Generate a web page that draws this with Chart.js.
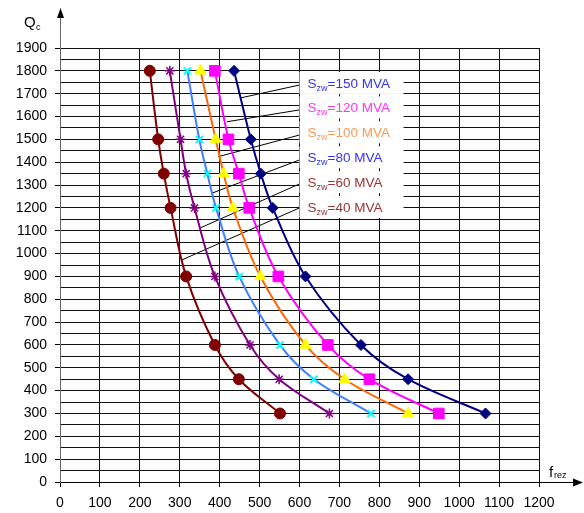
<!DOCTYPE html>
<html>
<head>
<meta charset="utf-8">
<script src="https://cdn.jsdelivr.net/npm/chart.js@4.4.1/dist/chart.umd.min.js"></script>
<style>
  html, body { margin: 0; padding: 0; background: #fff; }
  #wrap { width: 584px; height: 513px; }
</style>
</head>
<body>
<div id="wrap"><canvas id="chart" width="584" height="513"></canvas></div>
<script>
// Q_c values shared by every curve
const qc = [1800, 1500, 1350, 1200, 900, 600, 450, 300];

// f_rez readings, one array per S_zw
const f40 = [225, 246, 260, 277, 316, 388, 448, 551];
const f60 = [275, 302, 316, 337, 388, 476, 549, 675];
const f80 = [319, 349, 369, 391, 449, 551, 636, 779];
const f100 = [352, 390, 410, 433, 502, 615, 713, 872];
const f120 = [388, 422, 448, 474, 547, 671, 775, 949];
const f150 = [436, 478, 503, 533, 615, 754, 872, 1066];

const szw = ['150', '120', '100', '80', '60', '40'];
const xTicks = [0, 100, 200, 300, 400, 500, 600, 700, 800, 900, 1000, 1100, 1200];

const FONT = 'Liberation Sans, Arial, sans-serif';

const series = [
  { xs: f40, line: '#800000', fill: '#800000', style: 'circle', r: 5.5, bw: 1 },
  { xs: f60, line: '#800080', fill: '#800080', style: 'star', r: 5, bw: 1.5 },
  { xs: f80, line: '#3f7fff', fill: '#00ffff', style: 'crossRot', r: 5, bw: 2 },
  { xs: f100, line: '#ff6600', fill: '#ffff00', style: 'triangle', r: 6.5, bw: 1 },
  { xs: f120, line: '#ff00ff', fill: '#ff00ff', style: 'rect', r: 7.5, bw: 1 },
  { xs: f150, line: '#000080', fill: '#000080', style: 'rectRot', r: 5.5, bw: 1 },
];

// label boxes and their leader lines (order follows szw)
const labelColors = ['#3333ee', '#ff33ff', '#ff9955', '#3333ee', '#993333', '#993333'];
const labelY = [1747, 1640, 1531, 1422, 1313, 1204];
const leadStart = [1738, 1629, 1519, 1410, 1305, 1200];
const leadEnd = [[451, 1681], [418, 1577], [396, 1424], [380, 1264], [351, 1112], [305, 972]];

const datasets = series.map(s => ({
  data: s.xs.map((x, i) => ({ x: x, y: qc[i] })),
  showLine: true,
  borderColor: s.line,
  borderWidth: 2,
  tension: 0.35,
  pointStyle: s.style,
  pointRadius: s.r,
  pointBackgroundColor: s.fill,
  pointBorderColor: s.fill,
  pointBorderWidth: s.bw,
}));

const decor = {
  id: 'decor',
  beforeDatasetsDraw(chart) {
    const { ctx, scales: { x, y } } = chart;
    ctx.save();
    // leader lines
    ctx.strokeStyle = '#000';
    ctx.lineWidth = 1;
    szw.forEach((s, i) => {
      ctx.beginPath();
      ctx.moveTo(x.getPixelForValue(600), y.getPixelForValue(leadStart[i]));
      ctx.lineTo(x.getPixelForValue(leadEnd[i][0]), y.getPixelForValue(leadEnd[i][1]));
      ctx.stroke();
    });
    // label boxes
    szw.forEach((s, i) => {
      const left = x.getPixelForValue(600);
      const cy = y.getPixelForValue(labelY[i]);
      ctx.fillStyle = '#fff';
      ctx.fillRect(left, cy - 11, 104, 22);
      ctx.fillStyle = labelColors[i];
      ctx.textBaseline = 'alphabetic';
      ctx.textAlign = 'left';
      let tx = left + 8;
      const base = cy + 5;
      ctx.font = '13.5px ' + FONT;
      ctx.fillText('S', tx, base);
      tx += ctx.measureText('S').width;
      ctx.font = '9px ' + FONT;
      ctx.fillText('zw', tx, base + 3);
      tx += ctx.measureText('zw').width;
      ctx.font = '13.5px ' + FONT;
      ctx.fillText('=' + s + ' MVA', tx, base);
    });
    ctx.restore();
  },
  afterDraw(chart) {
    const { ctx, chartArea: a } = chart;
    ctx.save();
    ctx.strokeStyle = '#666';
    ctx.fillStyle = '#000';
    ctx.lineWidth = 1;
    // y axis arrow
    ctx.beginPath();
    ctx.moveTo(a.left + 0.5, a.top);
    ctx.lineTo(a.left + 0.5, 16);
    ctx.stroke();
    ctx.beginPath();
    ctx.moveTo(a.left - 3, 18);
    ctx.lineTo(a.left + 0.5, 8);
    ctx.lineTo(a.left + 4, 18);
    ctx.closePath();
    ctx.fill();
    // x axis arrow
    ctx.strokeStyle = '#000';
    ctx.beginPath();
    ctx.moveTo(a.right, a.bottom + 0.5);
    ctx.lineTo(574, a.bottom + 0.5);
    ctx.stroke();
    ctx.beginPath();
    ctx.moveTo(573, a.bottom - 3.5);
    ctx.lineTo(583, a.bottom + 0.5);
    ctx.lineTo(573, a.bottom + 4.5);
    ctx.closePath();
    ctx.fill();
    // axis titles
    ctx.textBaseline = 'alphabetic';
    ctx.textAlign = 'left';
    ctx.font = '15px ' + FONT;
    ctx.fillText('Q', 24, 27);
    ctx.font = '9px ' + FONT;
    ctx.fillText('c', 36, 30);
    ctx.font = '15px ' + FONT;
    ctx.fillText('f', 549, 477);
    ctx.font = '9px ' + FONT;
    ctx.fillText('rez', 554, 478);
    ctx.restore();
  }
};

new Chart(document.getElementById('chart'), {
  type: 'scatter',
  data: { datasets },
  plugins: [decor],
  options: {
    responsive: false,
    animation: false,
    layout: { padding: { top: 48, right: 45, left: 0, bottom: 0 } },
    plugins: { legend: { display: false }, tooltip: { enabled: false } },
    scales: {
      x: {
        type: 'linear',
        min: 0,
        max: 1200,
        afterBuildTicks: s => { s.ticks = xTicks.map(v => ({ value: v })); },
        afterFit: s => { s.height = 31; },
        ticks: {
          font: { family: FONT, size: 14 },
          color: '#000',
          padding: 8,
          maxRotation: 0,
          callback: v => String(v),
        },
        grid: { color: '#111', lineWidth: 1, tickLength: 5, tickColor: '#000' },
        border: { color: '#000', width: 1 },
      },
      y: {
        min: 0,
        max: 1900,
        afterFit: s => { s.width = 60; },
        ticks: {
          stepSize: 50,
          autoSkip: false,
          font: { family: FONT, size: 14 },
          color: '#000',
          padding: 8,
          callback: v => (v % 100 === 0 ? String(v) : ''),
        },
        grid: {
          color: '#111',
          lineWidth: 1,
          tickLength: 5,
          tickColor: c => (c.tick && c.tick.value % 100 === 0 ? '#000' : 'rgba(0,0,0,0)'),
        },
        border: { color: '#666', width: 1 },
      },
    },
  },
});
</script>
</body>
</html>
